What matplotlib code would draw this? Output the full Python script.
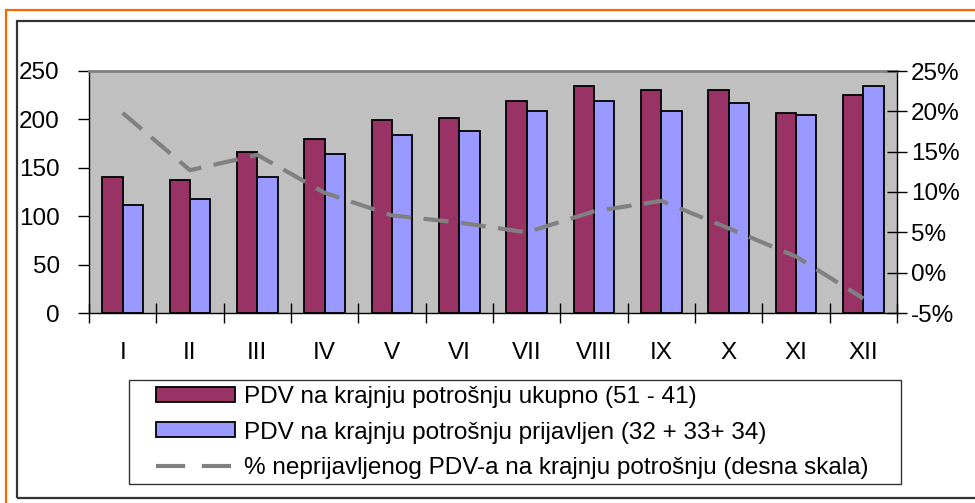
"""
PDV na krajnju potrošnju - mjesečni pregled
"""

import matplotlib

matplotlib.use("Agg")
import numpy as np
from matplotlib import pyplot as plt
from matplotlib.lines import Line2D
from matplotlib.patches import Rectangle
from matplotlib.ticker import FuncFormatter

plt.rcParams["font.family"] = ["Liberation Sans", "DejaVu Sans"]

months = ["I", "II", "III", "IV", "V", "VI", "VII", "VIII", "IX", "X", "XI", "XII"]
pdv_total = [140, 137, 166, 180, 199, 201, 219, 235, 230, 230, 207, 225]
pdv_reported = [112, 118, 141, 164, 184, 188, 209, 219, 209, 217, 205, 234]
pct_unreported = [19.8, 12.7, 14.6, 9.9, 7.1, 6.2, 5.0, 7.6, 8.9, 5.5, 2.0, -3.2]

labels = [
    "PDV na krajnju potrošnju ukupno (51 - 41)",
    "PDV na krajnju potrošnju prijavljen (32 + 33+ 34)",
    "% neprijavljenog PDV-a na krajnju potrošnju (desna skala)",
]

W, H = 975, 503
FS = 17.5


def main():
    fig = plt.figure(figsize=(W / 100, H / 100), dpi=100)

    # outer orange and inner dark frame
    fig.patches.append(
        Rectangle((6 / W, -0.1), 1.2, 1 - 10 / H + 0.1, transform=fig.transFigure,
                  fill=False, edgecolor="#FF6600", linewidth=1.6)
    )
    fig.patches.append(
        Rectangle((16.5 / W, 5 / H), 1.2, 1 - 21 / H - 5 / H, transform=fig.transFigure,
                  fill=False, edgecolor="#333333", linewidth=1.6)
    )
    # legend box
    fig.patches.append(
        Rectangle((129 / W, 1 - 484 / H), (901 - 129) / W, (484 - 380) / H,
                  transform=fig.transFigure, fill=False, edgecolor="#333333",
                  linewidth=1)
    )

    ax = fig.add_axes([89 / W, 1 - 313 / H, (897 - 89) / W, (313 - 71) / H])
    ax.set_facecolor("#C0C0C0")
    x = np.arange(len(months))
    w = 0.3
    b1 = ax.bar(x - w / 2, pdv_total, w, color="#993366", edgecolor="black",
                linewidth=1.3, zorder=2)
    b2 = ax.bar(x + w / 2, pdv_reported, w, color="#9999FF", edgecolor="black",
                linewidth=1.3, zorder=2)
    ax.set_xlim(-0.5, len(months) - 0.5)
    ax.set_ylim(0, 250)
    ax.set_yticks(range(0, 251, 50))
    ax.set_xticks(x)
    ax.set_xticklabels(months, fontsize=FS)
    ax.set_xticks(np.arange(-0.5, len(months), 1), minor=True)
    ax.tick_params(axis="x", which="major", length=0, pad=21)
    ax.tick_params(axis="x", which="minor", direction="inout", length=14, width=1)
    ax.tick_params(axis="y", direction="out", length=8, width=1, pad=13,
                   labelsize=FS)
    for side in ("left", "bottom", "right"):
        ax.spines[side].set_color("black")
        ax.spines[side].set_linewidth(1)
    ax.spines["top"].set_color("#808080")
    ax.spines["top"].set_linewidth(2)

    ax2 = ax.twinx()
    ax2.plot(x, pct_unreported, color="#808080", linewidth=3,
             dashes=(6, 3), zorder=3)
    ax2.set_ylim(-5, 25)
    ax2.set_yticks(range(-5, 26, 5))
    ax2.yaxis.set_major_formatter(FuncFormatter(lambda v, p: f"{v:.0f}%"))
    ax2.tick_params(axis="y", direction="inout", length=14, width=1, pad=3,
                    labelsize=FS)
    for s in ax2.spines.values():
        s.set_visible(False)

    # legend proxy with the longer dashes seen in the legend
    line_proxy = Line2D([], [], color="#808080", linewidth=3, dashes=(7, 4))
    fig.legend(
        [b1, b2, line_proxy], labels,
        loc="center left", bbox_to_anchor=(156 / W, 1 - 432.5 / H),
        fontsize=FS, frameon=False,
        handlelength=3.25, handleheight=0.58, handletextpad=0.37,
        labelspacing=0.55, borderpad=0, borderaxespad=0,
    )

    fig.savefig("out.png", dpi=100)


if __name__ == "__main__":
    main()
